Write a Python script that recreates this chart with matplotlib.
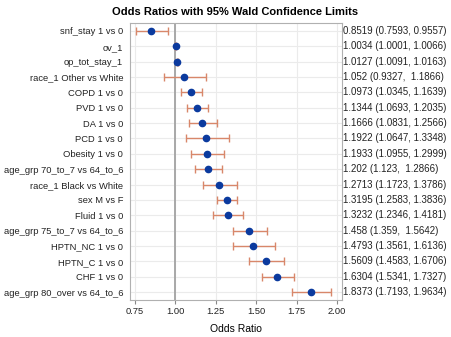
import numpy as np
import matplotlib
matplotlib.use("Agg")
import matplotlib.pyplot as plt
import matplotlib.transforms as mtransforms

plt.rcParams['font.family'] = ['Liberation Sans', 'DejaVu Sans']

effects = ["snf_stay 1 vs 0", "ov_1", "op_tot_stay_1", "race_1 Other vs White",
           "COPD 1 vs 0", "PVD 1 vs 0", "DA 1 vs 0", "PCD 1 vs 0", "Obesity 1 vs 0",
           "age_grp 70_to_7 vs 64_to_6", "race_1 Black vs White", "sex M vs F",
           "Fluid 1 vs 0", "age_grp 75_to_7 vs 64_to_6", "HPTN_NC 1 vs 0",
           "HPTN_C 1 vs 0", "CHF 1 vs 0", "age_grp 80_over vs 64_to_6"]
odds = [0.8519, 1.0034, 1.0127, 1.052, 1.0973, 1.1344, 1.1666, 1.1922, 1.1933,
        1.202, 1.2713, 1.3195, 1.3232, 1.458, 1.4793, 1.5609, 1.6304, 1.8373]
lower = [0.7593, 1.0001, 1.0091, 0.9327, 1.0345, 1.0693, 1.0831, 1.0647, 1.0955,
         1.123, 1.1723, 1.2583, 1.2346, 1.359, 1.3561, 1.4583, 1.5341, 1.7193]
upper = [0.9557, 1.0066, 1.0163, 1.1866, 1.1639, 1.2035, 1.2566, 1.3348, 1.2999,
         1.2866, 1.3786, 1.3836, 1.4181, 1.5642, 1.6136, 1.6706, 1.7327, 1.9634]
labels = ["0.8519 (0.7593, 0.9557)", "1.0034 (1.0001, 1.0066)", "1.0127 (1.0091, 1.0163)",
          "1.052 (0.9327,  1.1866)", "1.0973 (1.0345, 1.1639)", "1.1344 (1.0693, 1.2035)",
          "1.1666 (1.0831, 1.2566)", "1.1922 (1.0647, 1.3348)", "1.1933 (1.0955, 1.2999)",
          "1.202 (1.123,  1.2866)", "1.2713 (1.1723, 1.3786)", "1.3195 (1.2583, 1.3836)",
          "1.3232 (1.2346, 1.4181)", "1.458 (1.359,  1.5642)", "1.4793 (1.3561, 1.6136)",
          "1.5609 (1.4583, 1.6706)", "1.6304 (1.5341, 1.7327)", "1.8373 (1.7193, 1.9634)"]
xticks = [0.75, 1.00, 1.25, 1.50, 1.75, 2.00]

odds = np.array(odds)
lower = np.array(lower)
upper = np.array(upper)
y = np.arange(len(effects))

fig = plt.figure(figsize=(4.52, 3.37), dpi=100)
ax = fig.add_axes([130/452, 1-300/337, 212/452, 277/337])

ax.axvline(1.0, color="#a8a8a8", lw=1.4, zorder=1)
ax.errorbar(odds, y, xerr=[odds-lower, upper-odds], fmt="none",
            ecolor="#d8876a", elinewidth=1.0, capsize=3, capthick=1.0, zorder=2)
ax.plot(odds, y, "o", color="#0b3a9e", ms=4.5, zorder=3)

ax.set_ylim(len(effects)-0.48, -0.52)
ax.set_xlim(0.72, 2.03)
ax.set_xticks(xticks)
ax.set_xticklabels(["%.2f" % t for t in xticks])
ax.set_yticks(y)
ax.set_yticklabels(effects)
ax.grid(True, color="#ebebeb", lw=0.8, zorder=0)
ax.set_axisbelow(True)
ax.tick_params(labelsize=6.75, length=3, color="#888888", labelcolor="#222222")
ax.tick_params(axis="x", pad=2)
ax.tick_params(axis="y", length=0, pad=5)
for s in ax.spines.values():
    s.set_color("#b0b0b0")
ax.set_xlabel("Odds Ratio", fontsize=7.5, labelpad=6)

trans = mtransforms.blended_transform_factory(ax.transAxes, ax.transData)
for yi, lab in zip(y, labels):
    ax.text(1.004, yi, lab, transform=trans, fontsize=7.0, va="center", ha="left",
            color="#222222")

fig.suptitle("Odds Ratios with 95% Wald Confidence Limits", fontsize=8,
             fontweight="bold", x=235/452, y=1-12/337, va="center")

fig.savefig("out.png", dpi=100)
